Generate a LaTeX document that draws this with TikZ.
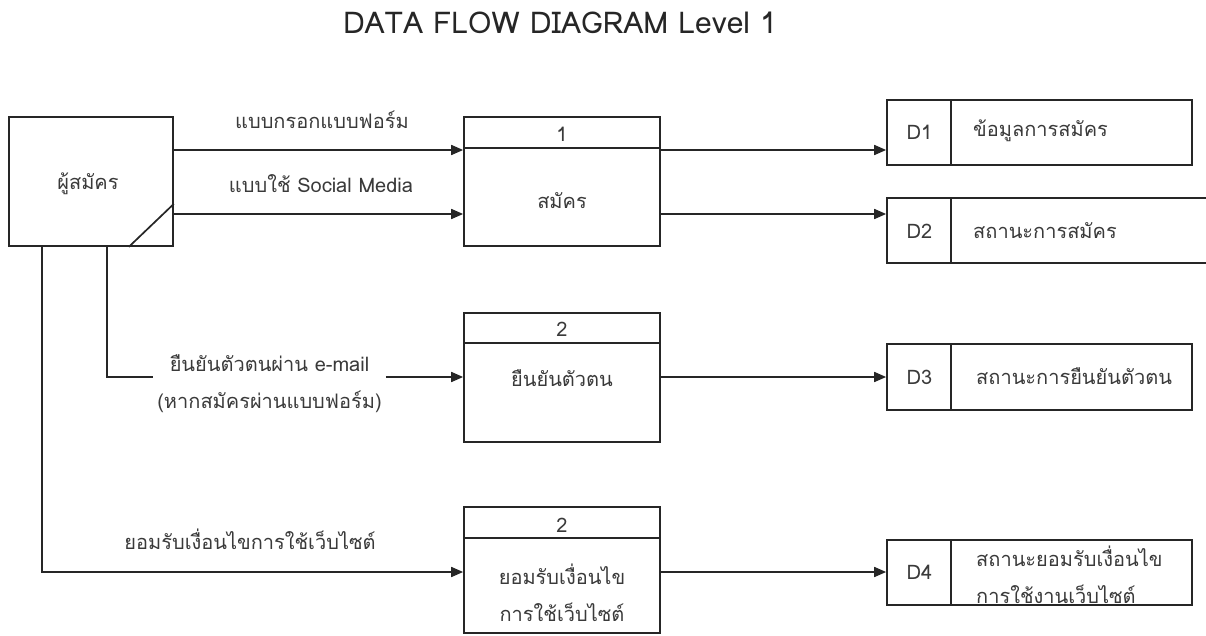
\documentclass[tikz,border=0pt]{standalone}
\usepackage{fontspec}
\setmainfont{DejaVu Sans}
\newfontfamily\thai[Script=Thai]{Loma}
\usetikzlibrary{arrows.meta,calc}
\definecolor{linec}{HTML}{262626}
\definecolor{txtc}{HTML}{3A3A3A}
\begin{document}
\begin{tikzpicture}[x=1pt,y=-1pt,
  box/.style={draw=linec,line width=1.7pt,inner sep=0pt,fill=white},
  conn/.style={draw=linec,line width=1.7pt},
  flow/.style={conn,-{Triangle[length=12pt,width=10pt]}},
  lbl/.style={text=txtc,font=\thai\fontsize{20}{37}\selectfont,inner sep=0pt,align=center},
  ttl/.style={text=linec,font=\thai\fontsize{30}{34}\selectfont,inner sep=0pt}]
\useasboundingbox (0,0) rectangle (1206,636);
\fill[white] (0,0) rectangle (1206,636);

\node[ttl] (title) at (560,23) {DATA FLOW DIAGRAM Level 1};

% flow levels
\coordinate (y1) at (0,150);
\coordinate (y2) at (0,214);
\coordinate (y3) at (0,377);
\coordinate (y4) at (0,572);
\coordinate (xa) at (42,0);
\coordinate (xb) at (107,0);

% external entity
\node[box,minimum width=164pt,minimum height=129pt] (ent) at (91,181.5) {};
\node[lbl] (entt) at (88,184) {ผู้สมัคร};
\draw[conn] ($(ent.south east)+(-45,0)$) -- ($(ent.south east)+(0,-43)$);

% processes
\node[box,minimum width=196pt,minimum height=129pt] (p1) at (562,181.5) {};
\draw[conn] ($(p1.north west)+(0,32)$) -- ($(p1.north east)+(0,32)$);
\node[lbl] (p1n) at (562,134) {1};
\node[lbl] (p1t) at (562,201) {สมัคร};

\node[box,minimum width=196pt,minimum height=129pt] (p2) at (562,377.5) {};
\draw[conn] ($(p2.north west)+(0,31)$) -- ($(p2.north east)+(0,31)$);
\node[lbl] (p2n) at (562,329) {2};
\node[lbl] (p2t) at (562,378) {ยืนยันตัวตน};

\node[box,minimum width=196pt,minimum height=126pt] (p3) at (562,570) {};
\draw[conn] ($(p3.north west)+(0,32)$) -- ($(p3.north east)+(0,32)$);
\node[lbl] (p3n) at (562,525) {2};
\node[lbl] (p3t) at (562,593) {ยอมรับเงื่อนไข\\การใช้เว็บไซต์};

% data stores
\node[box,minimum width=305pt,minimum height=65pt] (d1) at (1039.5,132.5) {};
\draw[conn] ($(d1.north west)+(65,0)$) -- ($(d1.south west)+(65,0)$);
\node[lbl] (d1n) at (919.5,132) {D1};
\node[lbl,anchor=west] (d1t) at (973,131) {ข้อมูลการสมัคร};

\node[box,minimum width=333pt,minimum height=65pt] (d2) at (1053.5,230.5) {};
\draw[conn] ($(d2.north west)+(65,0)$) -- ($(d2.south west)+(65,0)$);
\node[lbl] (d2n) at (919.5,231) {D2};
\node[lbl,anchor=west] (d2t) at (973,231) {สถานะการสมัคร};

\node[box,minimum width=305pt,minimum height=66pt] (d3) at (1039.5,377) {};
\draw[conn] ($(d3.north west)+(65,0)$) -- ($(d3.south west)+(65,0)$);
\node[lbl] (d3n) at (919.5,377) {D3};
\node[lbl,anchor=west] (d3t) at (976,376) {สถานะการยืนยันตัวตน};

\node[box,minimum width=305pt,minimum height=65pt] (d4) at (1039.5,572.5) {};
\draw[conn] ($(d4.north west)+(65,0)$) -- ($(d4.south west)+(65,0)$);
\node[lbl] (d4n) at (919.5,572) {D4};
\node[lbl,anchor=west,align=left] (d4t) at (976,575) {สถานะยอมรับเงื่อนไข\\การใช้งานเว็บไซต์};

% flows entity -> process 1
\draw[flow] (ent.east |- y1) -- (p1.west |- y1);
\draw[flow] (ent.east |- y2) -- (p1.west |- y2);
\node[lbl] (f1) at (322,120) {แบบกรอกแบบฟอร์ม};
\node[lbl] (f2) at (321,184) {แบบใช้ Social Media};

% entity -> process 2
\node[lbl,fill=white,inner xsep=4pt,inner ysep=2pt] (f3) at (269.5,384) {ยืนยันตัวตนผ่าน e-mail\\(หากสมัครผ่านแบบฟอร์ม)};
\draw[conn] (ent.south -| xb) -- (xb |- y3) -- (f3.west |- y3);
\draw[flow] (f3.east |- y3) -- (p2.west |- y3);

% entity -> process 3
\draw[flow] (ent.south -| xa) -- (xa |- y4) -- (p3.west |- y4);
\node[lbl] (f4) at (250,539) {ยอมรับเงื่อนไขการใช้เว็บไซต์};

% process -> stores
\draw[flow] (p1.east |- y1) -- (d1.west |- y1);
\draw[flow] (p1.east |- y2) -- (d2.west |- y2);
\draw[flow] (p2.east |- y3) -- (d3.west |- y3);
\draw[flow] (p3.east |- y4) -- (d4.west |- y4);
\end{tikzpicture}
\end{document}
